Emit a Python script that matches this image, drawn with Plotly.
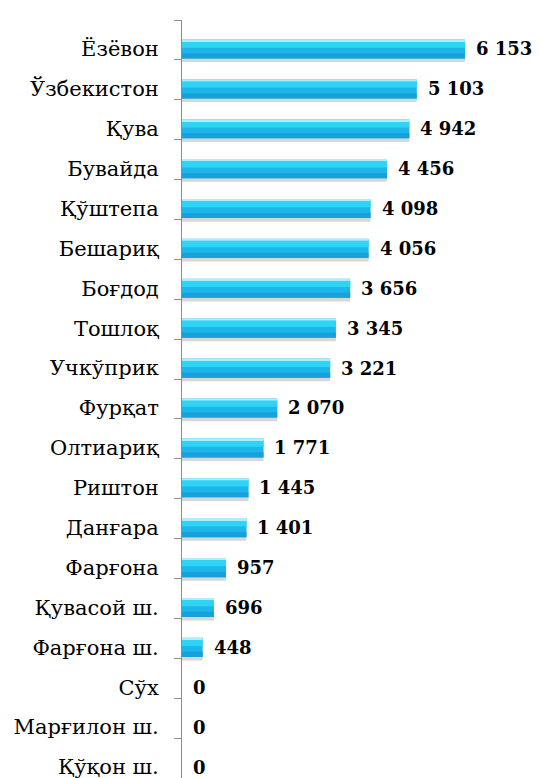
import plotly.graph_objects as go

# Data (top to bottom as displayed)
categories = ["Ёзёвон", "Ўзбекистон", "Қува", "Бувайда", "Қўштепа", "Бешариқ",
              "Боғдод", "Тошлоқ", "Учкўприк", "Фурқат", "Олтиариқ", "Риштон",
              "Данғара", "Фарғона", "Қувасой ш.", "Фарғона ш.", "Сўх",
              "Марғилон ш.", "Қўқон ш."]
values = [6153, 5103, 4942, 4456, 4098, 4056, 3656, 3345, 3221, 2070, 1771,
          1445, 1401, 957, 696, 448, 0, 0, 0]
value_labels = ["6 153", "5 103", "4 942", "4 456", "4 098", "4 056", "3 656",
                "3 345", "3 221", "2 070", "1 771", "1 445", "1 401", "957",
                "696", "448", "0", "0", "0"]

n = len(categories)
ypos = [n - 1 - i for i in range(n)]  # top item highest

fig = go.Figure()

# layers to imitate the shaded 3D bar (shadow, body, darker bottom, bright top, light edge)
layers = [
    dict(offset=-0.33, width=0.46, color="rgba(110,110,110,0.28)"),
    dict(offset=-0.24, width=0.48, color="#1cb6ea"),
    dict(offset=-0.24, width=0.13, color="#18a0da"),
    dict(offset=0.03, width=0.17, color="#2fd3f6"),
    dict(offset=0.19, width=0.05, color="#aeeefb"),
]
for L in layers:
    fig.add_trace(go.Bar(
        x=values, y=ypos, orientation="h",
        offset=L["offset"], width=L["width"],
        marker=dict(color=L["color"], line=dict(width=0)),
        hoverinfo="skip", showlegend=False,
    ))

for v, y, t in zip(values, ypos, value_labels):
    fig.add_annotation(
        x=v, y=y, xref="x", yref="y", text=t, showarrow=False,
        xanchor="left", yanchor="middle", xshift=10, yshift=0, borderpad=0,
        font=dict(family="DejaVu Serif", size=18, color="#000000", weight="bold"),
    )

# the page body adds an 8px offset, so the figure is sized to fit the window
fig.update_layout(
    width=533, height=770,
    margin=dict(l=174, r=37, t=12, b=0, autoexpand=False),
    paper_bgcolor="white", plot_bgcolor="white",
    barmode="overlay",
    xaxis=dict(visible=False, range=[0, 7000], fixedrange=True, automargin=False),
    yaxis=dict(
        range=[-0.275, n - 1 + 0.725],
        automargin=False,
        tickmode="array", tickvals=ypos, ticktext=categories,
        ticks="", showgrid=False, zeroline=False,
        showline=True, linecolor="#8c8c8c", linewidth=1,
        ticklabelstandoff=18, ticklabeloverflow="allow",
        tickfont=dict(family="DejaVu Serif", size=21, color="#000000"),
        minor=dict(tickmode="linear", tick0=0.725, dtick=1, ticks="outside",
                   ticklen=7, tickcolor="#8c8c8c", tickwidth=1, showgrid=False),
    ),
)

fig.write_html("out.html")
